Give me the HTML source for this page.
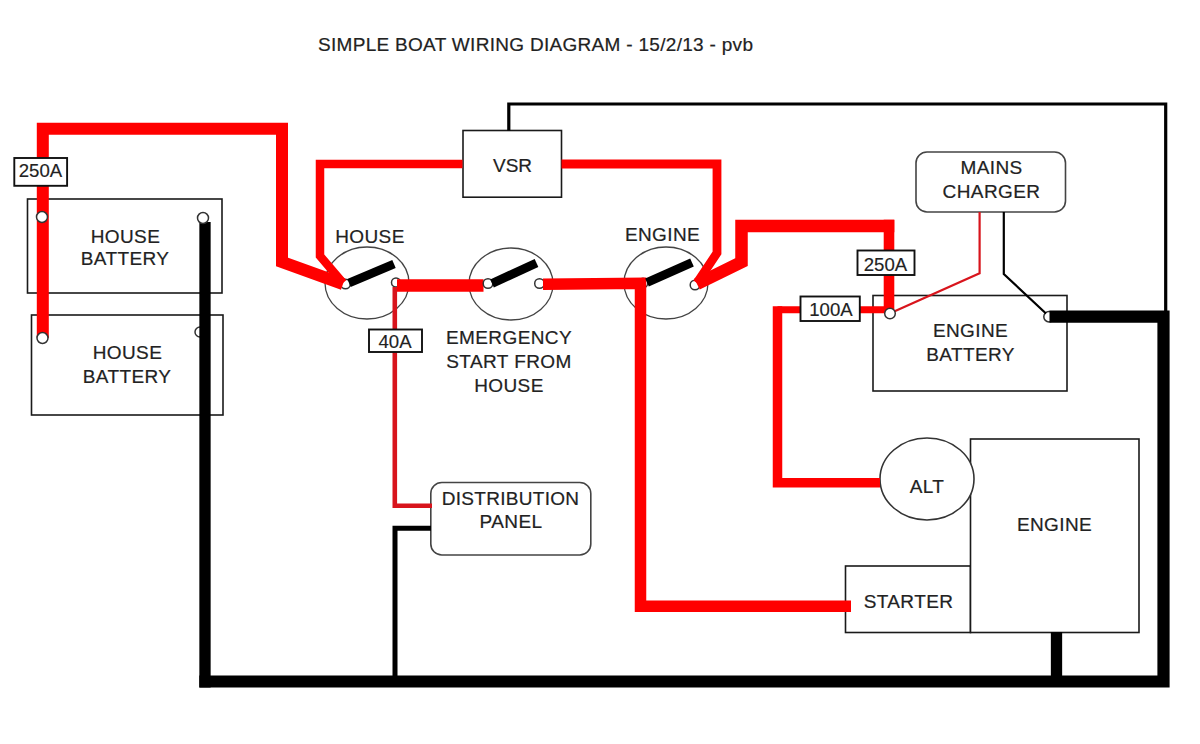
<!DOCTYPE html>
<html><head><meta charset="utf-8">
<style>
html,body{margin:0;padding:0;background:#fff;width:1200px;height:744px;overflow:hidden}
svg{display:block}
text{font-family:"Liberation Sans",sans-serif;font-size:19px;fill:#222;stroke:#222;stroke-width:0.2px;letter-spacing:0.4px}
.title{letter-spacing:0.3px}
.fuse{letter-spacing:0;font-size:18.6px;stroke-width:0.15px}
</style></head>
<body>
<svg width="1200" height="744" viewBox="0 0 1200 744">
<rect width="1200" height="744" fill="#fff"/>
<text class="title" x="318" y="50.5">SIMPLE BOAT WIRING DIAGRAM - 15/2/13 - pvb</text>

<!-- boxes -->
<g fill="none" stroke="#1a1a1a" stroke-width="1.6">
  <rect x="27.5" y="199" width="194.5" height="94"/>
  <rect x="31.5" y="315" width="191.5" height="100"/>
  <rect x="463" y="130.5" width="98.5" height="66.7" fill="#fff"/>
  <rect x="916" y="152" width="149.5" height="60" rx="11" fill="#fff" stroke="#444"/>
  <rect x="873" y="295.5" width="194" height="95.5"/>
  <rect x="430.8" y="482.5" width="160" height="72.5" rx="11" fill="#fff" stroke="#444"/>
  <rect x="845.5" y="566" width="125" height="66.5" fill="#fff"/>
  <rect x="970.5" y="439" width="168.5" height="193.5" fill="#fff"/>
  <ellipse cx="927" cy="479" rx="47" ry="41" fill="#fff" stroke="#333"/>
  <ellipse cx="367" cy="283" rx="42" ry="36" stroke="#444" stroke-width="1.3"/>
  <ellipse cx="511" cy="284" rx="42" ry="36" stroke="#444" stroke-width="1.3"/>
  <ellipse cx="666" cy="283" rx="42" ry="36" stroke="#444" stroke-width="1.3"/>
</g>

<!-- terminals drawn under wires -->
<g fill="#fff" stroke="#333" stroke-width="1.5">
  <circle cx="200" cy="332" r="5"/>
  <circle cx="345.5" cy="284" r="4.8"/>
  <circle cx="396" cy="282.5" r="4.5"/>
  <circle cx="539.5" cy="283.5" r="4.8"/>
  <circle cx="643" cy="283" r="4.8"/>
  <circle cx="695" cy="285" r="4.8"/>
  <circle cx="1049" cy="316.7" r="5.2"/>
</g>

<!-- black wires -->
<g fill="none" stroke="#000" stroke-linejoin="miter" stroke-linecap="butt">
  <polyline points="508.8,130.5 508.8,104 1165.7,104 1165.7,312" stroke-width="3.2"/>
  <polyline points="205,222 205,687.5" stroke-width="11.3"/>
  <polyline points="199.35,681.5 1163.5,681.5 1163.5,316.7 1049.5,316.7" stroke-width="12.2"/>
  <polyline points="431,528.3 395,528.3 395,681" stroke-width="5"/>
  <line x1="1056.5" y1="632" x2="1056.5" y2="681" stroke-width="11.3"/>
  <polyline points="1003.8,212 1003.8,274 1046,313.5" stroke-width="2.2"/>
</g>

<!-- red wires -->
<g fill="none" stroke="#f00" stroke-linejoin="miter" stroke-linecap="butt">
  <polyline points="42.8,338 42.8,128.8 282,128.8 282,262 343,284" stroke-width="12"/>
  <polyline points="462.5,164 320,164 320,256 343,283" stroke-width="8.5"/>
  <polyline points="561.5,164 717,164 717,253 697,283" stroke-width="8.8"/>
  <line x1="397" y1="285.5" x2="483.5" y2="285.5" stroke-width="12.5"/>
  <polyline points="543,284.2 640.5,283.3 640.5,606.3 851,606.3" stroke-width="11.5"/>
  <polyline points="697,284 741.5,262 741.5,226 894.3,226" stroke-width="12.5"/>
  <polyline points="889,219.75 889,310" stroke-width="10.6"/>
  <polyline points="891,309.7 777.5,309.7" stroke-width="7"/>
  <polyline points="777.5,306.2 777.5,482.8 880,482.8" stroke-width="9.5"/>
</g>
<g fill="none" stroke="#d8141c" stroke-linejoin="miter">
  <polyline points="394.8,287 394.8,505.7 432,505.7" stroke-width="4.6"/>
  <polyline points="979.6,212 979.6,273.3 893,312" stroke-width="2.2"/>
</g>

<!-- terminals on top of wires -->
<g fill="#fff" stroke="#333" stroke-width="1.5">
  <circle cx="42" cy="217" r="5.5"/>
  <circle cx="42.5" cy="338" r="5.5"/>
  <circle cx="203" cy="218" r="5.5"/>
  <circle cx="890" cy="313.5" r="5.3"/>
  <circle cx="488" cy="283.5" r="4.8"/>
</g>

<!-- levers -->
<g stroke="#000" stroke-width="8.8">
  <line x1="349" y1="283" x2="394" y2="264"/>
  <line x1="492" y1="283.5" x2="536.5" y2="263"/>
  <line x1="647" y1="282.5" x2="692" y2="262.5"/>
</g>

<!-- fuse labels -->
<g fill="#fff" stroke="#111" stroke-width="1.9">
  <rect x="14.3" y="158" width="52.8" height="27.8"/>
  <rect x="369" y="329.5" width="53" height="22.5"/>
  <rect x="857.5" y="250.5" width="57" height="24.5"/>
  <rect x="800.5" y="296.5" width="59.3" height="24.5"/>
</g>

<g text-anchor="middle">
  <text class="fuse" x="40.5" y="177">250A</text>
  <text x="125.5" y="242.5">HOUSE</text>
  <text x="125" y="265">BATTERY</text>
  <text x="127.5" y="359">HOUSE</text>
  <text x="127" y="383">BATTERY</text>
  <text x="370" y="242.5">HOUSE</text>
  <text x="512.5" y="172.3" style="letter-spacing:0">VSR</text>
  <text class="fuse" x="395" y="348.3">40A</text>
  <text x="509" y="344">EMERGENCY</text>
  <text x="509" y="368">START FROM</text>
  <text x="509" y="392">HOUSE</text>
  <text x="662.5" y="241">ENGINE</text>
  <text x="991.5" y="174">MAINS</text>
  <text x="991.5" y="198.3">CHARGER</text>
  <text class="fuse" x="885.5" y="270.5">250A</text>
  <text class="fuse" x="831" y="316">100A</text>
  <text x="970.5" y="337">ENGINE</text>
  <text x="970.5" y="360.5">BATTERY</text>
  <text x="510.5" y="504.5" style="letter-spacing:0.3px">DISTRIBUTION</text>
  <text x="511" y="528">PANEL</text>
  <text x="927" y="492.5">ALT</text>
  <text x="908.5" y="608">STARTER</text>
  <text x="1054.5" y="530.5">ENGINE</text>
</g>
</svg>
</body></html>
